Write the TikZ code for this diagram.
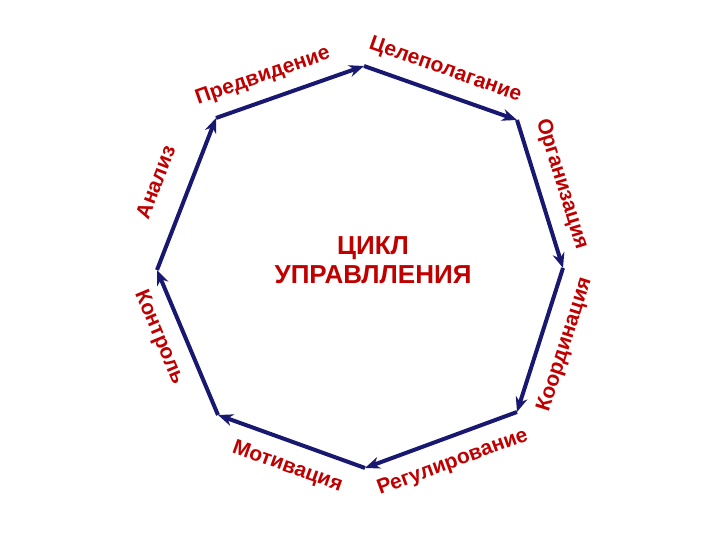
\documentclass[tikz,border=0pt]{standalone}
\usepackage{fontspec}
\setmainfont{Liberation Sans}
\usetikzlibrary{arrows.meta,positioning}
\definecolor{cyclenavy}{RGB}{24,24,112}
\definecolor{cyclered}{RGB}{192,0,0}
\tikzset{
  >=Stealth,
  cycleline/.style={line width=4pt,draw=cyclenavy,-{Stealth[length=15pt,width=12pt]}},
  stage/.style={font=\bfseries\fontsize{21}{24}\selectfont,text=cyclered,inner sep=0pt},
  heading/.style={font=\bfseries\fontsize{26}{29}\selectfont,text=cyclered,align=center}
}

\begin{document}
\begin{tikzpicture}[x=1pt,y=1pt]
  \useasboundingbox (0,0) rectangle (720,540);

  % Corners of the octagon
  \coordinate (v1) at (364,474);
  \coordinate (v2) at (517,420);
  \coordinate (v3) at (563,272);
  \coordinate (v4) at (517,128);
  \coordinate (v5) at (365,72);
  \coordinate (v6) at (218,125);
  \coordinate (v7) at (157,270);
  \coordinate (v8) at (216,422);

  % Stages of the cycle, clockwise
  \draw[cycleline] (v8) -- (v1) node[stage,pos=0.37,sloped,above=12pt] (pred) {Предвидение};
  \draw[cycleline] (v1) -- (v2) node[stage,pos=0.48,sloped,above=12pt] (goal) {Целеполагание};
  \draw[cycleline] (v2) -- (v3) node[stage,pos=0.48,sloped,above=12pt] (org) {Организация};
  \draw[cycleline] (v3) -- (v4) node[stage,pos=0.48,sloped,below=14pt] (coord) {Координация};
  \draw[cycleline] (v4) -- (v5) node[stage,pos=0.48,sloped,below=14pt] (reg) {Регулирование};
  \draw[cycleline] (v5) -- (v6) node[stage,pos=0.47,sloped,below=14pt] (motiv) {Мотивация};
  \draw[cycleline] (v6) -- (v7) node[stage,pos=0.6,sloped,below=13pt] (ctrl) {Контроль};
  \draw[cycleline] (v7) -- (v8) node[stage,pos=0.5,sloped,above=24pt] (anal) {Анализ};

  % Title in the middle
  \node[heading] (cycle) at (373,280) {ЦИКЛ\\УПРАВЛЛЕНИЯ};
\end{tikzpicture}
\end{document}
